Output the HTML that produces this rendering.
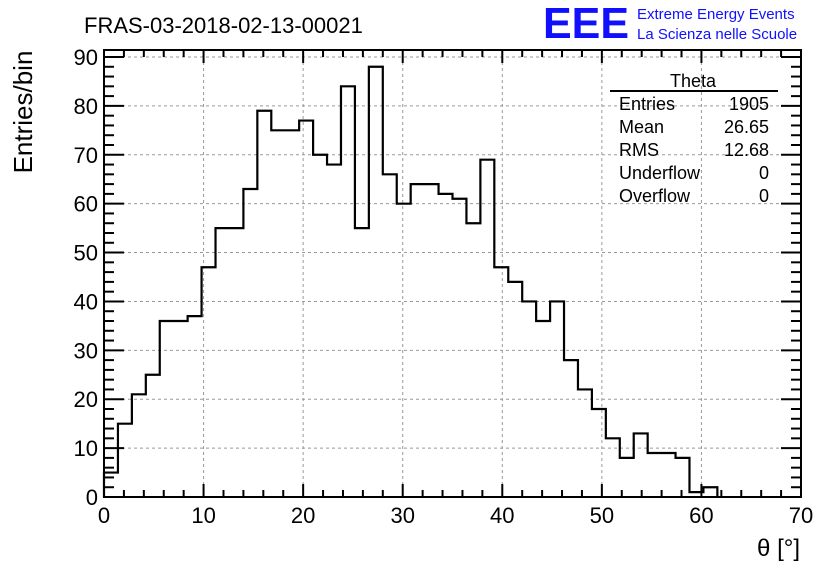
<!DOCTYPE html>
<html><head><meta charset="utf-8"><style>
body{margin:0;background:#fff;}
svg{display:block;font-family:"Liberation Sans",sans-serif;}
</style></head><body>
<svg id="c" width="836" height="572" viewBox="0 0 836 572">
<text x="84" y="33" font-size="22">FRAS-03-2018-02-13-00021</text>
<text x="543" y="38" font-size="44" fill="#1010ff" font-weight="bold" textLength="86" lengthAdjust="spacingAndGlyphs">EEE</text>
<text x="637" y="19" font-size="15" fill="#1010ff">Extreme Energy Events</text>
<text x="637" y="39" font-size="15" fill="#1010ff">La Scienza nelle Scuole</text>
<text transform="translate(32,112) rotate(-90)" font-size="26" text-anchor="middle">Entries/bin</text>
<text x="800" y="556" font-size="24" text-anchor="end">θ [°]</text>
<g id="grid"></g><g id="hist"></g><g id="axes"></g>
<g font-size="18">
<text x="693" y="87" text-anchor="middle">Theta</text>
<line x1="610" y1="91" x2="778" y2="91" stroke="#000" stroke-width="2"/>
<text x="619" y="110">Entries</text><text x="769" y="110" text-anchor="end">1905</text>
<text x="619" y="133">Mean</text><text x="769" y="133" text-anchor="end">26.65</text>
<text x="619" y="156">RMS</text><text x="769" y="156" text-anchor="end">12.68</text>
<text x="619" y="179">Underflow</text><text x="769" y="179" text-anchor="end">0</text>
<text x="619" y="202">Overflow</text><text x="769" y="202" text-anchor="end">0</text>
</g>
</svg>
<script>
const binWidth = 1.4;
const counts = [5,15,21,25,36,36,37,47,55,55,63,79,75,75,77,70,68,84,55,88,66,60,64,64,62,61,56,69,47,44,40,36,40,28,22,18,12,8,13,9,9,8,1,2];
const xTicks = [0,10,20,30,40,50,60,70];
const yTicks = [0,10,20,30,40,50,60,70,80,90];
const L=104,R=801,T=50,B=497;
const X=v=>L+(v/70)*(R-L);
const Y=v=>B-(v/90)*(B-57);
const NS='http://www.w3.org/2000/svg';
function mk(t,a,p){const e=document.createElementNS(NS,t);for(const k in a)e.setAttribute(k,a[k]);p.appendChild(e);return e;}
const grid=document.getElementById('grid'),axes=document.getElementById('axes'),hist=document.getElementById('hist');
xTicks.forEach(v=>{
 if(v>0&&v<70){const g=mk('line',{x1:X(v),x2:X(v),y1:T,y2:B,stroke:'#999','stroke-dasharray':'3,3'},grid);
 
 }
 const t=mk('text',{x:X(v),y:B+26,'font-size':22,'text-anchor':'middle'},axes);t.textContent=v;
 
 
 mk('line',{x1:X(v),x2:X(v),y1:B,y2:B-13,stroke:'#000','stroke-width':2},axes);
 mk('line',{x1:X(v),x2:X(v),y1:T,y2:T+13,stroke:'#000','stroke-width':2},axes);
});
for(let v=0;v<=70;v+=2){if(v%10){mk('line',{x1:X(v),x2:X(v),y1:B,y2:B-7,stroke:'#000','stroke-width':2},axes);mk('line',{x1:X(v),x2:X(v),y1:T,y2:T+7,stroke:'#000','stroke-width':2},axes);}}
yTicks.forEach(v=>{
 if(v>0){const g=mk('line',{x1:L,x2:R,y1:Y(v),y2:Y(v),stroke:'#999','stroke-dasharray':'3,3'},grid);
 
 }
 const t=mk('text',{x:L-6,y:Y(v)+8,'font-size':22,'text-anchor':'end'},axes);t.textContent=v;
 
 
 mk('line',{x1:L,x2:L+20,y1:Y(v),y2:Y(v),stroke:'#000','stroke-width':2},axes);
 mk('line',{x1:R,x2:R-20,y1:Y(v),y2:Y(v),stroke:'#000','stroke-width':2},axes);
});
for(let v=0;v<=90;v+=2){if(v%10){mk('line',{x1:L,x2:L+10,y1:Y(v),y2:Y(v),stroke:'#000','stroke-width':2},axes);mk('line',{x1:R,x2:R-10,y1:Y(v),y2:Y(v),stroke:'#000','stroke-width':2},axes);}}
const fr=mk('rect',{x:L,y:T,width:R-L,height:B-T,fill:'none',stroke:'#000','stroke-width':2},axes);


let d='M'+X(0)+','+Y(0);
counts.forEach((c,i)=>{d+=' L'+X(i*binWidth)+','+Y(c)+' L'+X((i+1)*binWidth)+','+Y(c);});
d+=' L'+X(counts.length*binWidth)+','+Y(0);
const p=mk('path',{d:d,fill:'none',stroke:'#000','stroke-width':2.2},hist);


</script>
</body></html>
